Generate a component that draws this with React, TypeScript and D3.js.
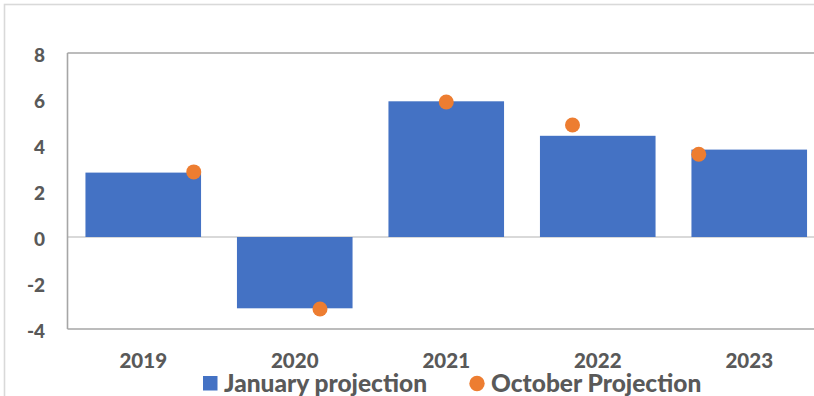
import React from 'react';
import * as d3 from 'd3';

const years = ['2019', '2020', '2021', '2022', '2023'];
const januaryProjection = [2.8, -3.1, 5.9, 4.4, 3.8];
const octoberProjection = [2.83, -3.13, 5.87, 4.87, 3.6];
const yTicks = [-4, -2, 0, 2, 4, 6, 8];

const W = 814;
const H = 396;

const App: React.FC = () => {
  const svgRef = React.useRef<SVGSVGElement>(null);

  React.useEffect(() => {
    if (!svgRef.current) return;
    const svg = d3.select(svgRef.current);
    svg.selectAll('*').remove();

    const left = 67.5;
    const right = 825;
    const top = 53;
    const bottom = 329;
    const font = 'Lato, "Open Sans", sans-serif';
    const textColor = '#595959';

    // outer chart frame (runs off the right/bottom edge)
    svg.append('rect')
      .attr('x', 4.5).attr('y', 4.5)
      .attr('width', 900).attr('height', 500)
      .attr('fill', '#fff')
      .attr('stroke', '#d9d9d9')
      .attr('stroke-width', 1.6);

    const y = d3.scaleLinear().domain([-4, 8]).range([bottom, top]);
    const x = d3.scaleBand<string>()
      .domain(years)
      .range([left, right])
      .paddingInner(0.237)
      .paddingOuter(0.1185);
    const xDot = d3.scaleLinear().domain([2018, 2024]).range([left, right]);

    // zero line
    svg.append('line')
      .attr('x1', left).attr('x2', W)
      .attr('y1', y(0)).attr('y2', y(0))
      .attr('stroke', '#d9d9d9')
      .attr('stroke-width', 2);

    // bars
    svg.append('g')
      .selectAll('rect')
      .data(januaryProjection)
      .join('rect')
      .attr('x', (_, i) => x(years[i])!)
      .attr('width', x.bandwidth())
      .attr('y', d => y(Math.max(0, d)))
      .attr('height', d => Math.abs(y(d) - y(0)))
      .attr('fill', '#4472c4');

    // plot area border (left, top, bottom)
    const border = svg.append('g')
      .attr('stroke', '#a6a6a6')
      .attr('stroke-width', 1.6)
      .attr('fill', 'none');
    border.append('line').attr('x1', left).attr('x2', left).attr('y1', top).attr('y2', bottom);
    border.append('line').attr('x1', left).attr('x2', W).attr('y1', top).attr('y2', top);
    border.append('line').attr('x1', left).attr('x2', W).attr('y1', bottom).attr('y2', bottom);

    // dots
    svg.append('g')
      .selectAll('circle')
      .data(octoberProjection)
      .join('circle')
      .attr('cx', (_, i) => xDot(+years[i]))
      .attr('cy', d => y(d))
      .attr('r', 7.5)
      .attr('fill', '#ed7d31');

    // y labels
    svg.append('g')
      .selectAll('text')
      .data(yTicks)
      .join('text')
      .attr('x', 45)
      .attr('y', d => y(d) + 2)
      .attr('dy', '0.36em')
      .attr('text-anchor', 'end')
      .style('font-family', font)
      .style('font-weight', '900')
      .style('font-size', '19px')
      .style('fill', textColor)
      .text(d => d);

    // x labels
    svg.append('g')
      .selectAll('text')
      .data(years)
      .join('text')
      .attr('x', d => x(d)! + x.bandwidth() / 2)
      .attr('y', 368)
      .attr('text-anchor', 'middle')
      .style('font-family', font)
      .style('font-weight', '900')
      .style('font-size', '20.5px')
      .style('fill', textColor)
      .text(d => d);

    // legend
    const legend = svg.append('g')
      .style('font-family', font)
      .style('font-weight', '900')
      .style('font-size', '24.5px')
      .style('fill', textColor);
    legend.append('rect')
      .attr('x', 203).attr('y', 376)
      .attr('width', 14.5).attr('height', 14.5)
      .attr('fill', '#4472c4');
    legend.append('text').attr('x', 224).attr('y', 392).text('January projection');
    legend.append('circle')
      .attr('cx', 477).attr('cy', 383.5).attr('r', 7.7)
      .attr('fill', '#ed7d31');
    legend.append('text').attr('x', 491).attr('y', 392).text('October Projection');
  }, []);

  return (
    <svg
      ref={svgRef}
      width={W}
      height={H}
      viewBox={`0 0 ${W} ${H}`}
      style={{ position: 'absolute', left: 0, top: 0, background: '#fff' }}
    />
  );
};

export default App;
